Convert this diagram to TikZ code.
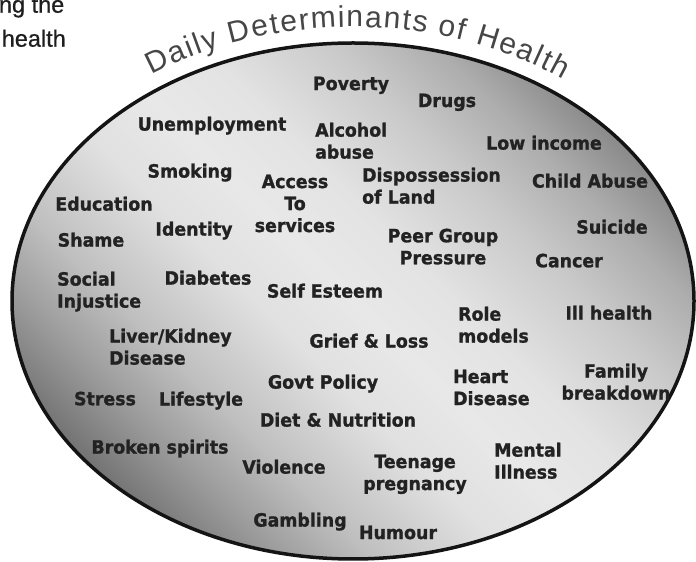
\documentclass[tikz,border=0pt]{standalone}
\usepackage{fontspec}
\usetikzlibrary{decorations.text}

\newfontfamily\lblfamily{DejaVu Sans}[FakeStretch=0.95, BoldFeatures={FakeBold=1.2}]
\newfontfamily\titlefamily{Liberation Sans}
\newfontfamily\cornerfamily{Liberation Sans}[FakeBold=0.6]
\newcommand\lblfont{\lblfamily\bfseries\fontsize{18.3}{22}\selectfont}
\newcommand\titlefont{\titlefamily\fontsize{30}{33}\selectfont}
\newcommand\cornerfont{\cornerfamily\fontsize{23.5}{26}\selectfont}

\definecolor{labelgray}{HTML}{222222}
\definecolor{titlegray}{HTML}{464646}
\definecolor{cornergray}{HTML}{1E1E1E}
\definecolor{rim}{HTML}{141414}

% brushed-metal look: dark lower left, bright diagonal band, dark upper right
\pgfdeclarehorizontalshading{metal}{100bp}{%
  color(0bp)=(black!58);
  color(25bp)=(black!54);
  color(30bp)=(black!40);
  color(36bp)=(black!25);
  color(44bp)=(black!12);
  color(50bp)=(black!9);
  color(56bp)=(black!11);
  color(64bp)=(black!21);
  color(70bp)=(black!32);
  color(75bp)=(black!45);
  color(100bp)=(black!50)}

\begin{document}
\begin{tikzpicture}[x=1pt,y=1pt,
  lbl/.style={font=\lblfont, text=labelgray, inner sep=0pt, anchor=north, align=center},
  lbll/.style={lbl, anchor=north west, align=left}]
\useasboundingbox (0,0) rectangle (696,562);
\fill[white] (0,0) rectangle (696,562);

% the disc
\shade[shading=metal, shading angle=45] (353,261) ellipse [x radius=341, y radius=258];
\draw[line width=3.5pt, color=rim] (353,261) ellipse [x radius=341, y radius=258];

% curved heading
\path[decorate, decoration={text along path,
    text={|\titlefont|Daily Determinants of Health},
    text color=titlegray, text align={fit to path}}]
  (353,261) ++(124.3:357 and 274)
  arc[start angle=124.3, end angle=53.96, x radius=357, y radius=274];

% clipped lines of running text at the corner
\node[font=\cornerfont, text=cornergray, inner sep=0pt, anchor=base east] (cornerA) at (64.5,549.3) {ng the};
\node[font=\cornerfont, text=cornergray, inner sep=0pt, anchor=base east] (cornerB) at (66,515.3) {health};

% determinants
\node[lbl] (poverty) at (351,485.5) {Poverty};
\node[lbl] (drugs) at (447,468.5) {Drugs};
\node[lbl] (unemp) at (212,445.5) {Unemployment};
\node[lbll] (alcohol) at (315,439.5) {Alcohol\\abuse};
\node[lbl] (lowinc) at (544,426.5) {Low income};
\node[lbl] (smoking) at (190,398.5) {Smoking};
\node[lbl] (access) at (295,387.5) {Access\\To\\services};
\node[lbll] (dispos) at (362,394.5) {Dispossession\\of Land};
\node[lbl] (childab) at (590,388.5) {Child Abuse};
\node[lbl] (educ) at (104,365.5) {Education};
\node[lbl] (identity) at (194,340.5) {Identity};
\node[lbl] (shame) at (91,329.5) {Shame};
\node[lbl] (peer) at (443,333.5) {Peer Group\\Pressure};
\node[lbl] (suicide) at (612,342.5) {Suicide};
\node[lbl] (cancer) at (569,308.5) {Cancer};
\node[lbll] (social) at (57,290.5) {Social\\Injustice};
\node[lbl] (diabetes) at (208,291.5) {Diabetes};
\node[lbl] (selfest) at (325,278.5) {Self Esteem};
\node[lbll] (role) at (458,255.5) {Role\\models};
\node[lbl] (illh) at (609,256.5) {Ill health};
\node[lbll] (liver) at (109,233.5) {Liver/Kidney\\Disease};
\node[lbl] (grief) at (369,228.5) {Grief \& Loss};
\node[lbll] (heart) at (453,192.5) {Heart\\Disease};
\node[lbl] (family) at (616,198.5) {Family\\breakdown};
\node[lbl] (govt) at (323,187.5) {Govt Policy};
\node[lbl] (stress) at (105,170.5) {Stress};
\node[lbl] (lifestyle) at (201,170.5) {Lifestyle};
\node[lbl] (diet) at (338,149.5) {Diet \& Nutrition};
\node[lbl] (broken) at (160,122.5) {Broken spirits};
\node[lbll] (mental) at (494,119.5) {Mental\\Illness};
\node[lbl] (teen) at (415,107.5) {Teenage\\pregnancy};
\node[lbl] (violence) at (284,102.5) {Violence};
\node[lbl] (gambling) at (300,49.5) {Gambling};
\node[lbl] (humour) at (398,36.5) {Humour};
\end{tikzpicture}
\end{document}
